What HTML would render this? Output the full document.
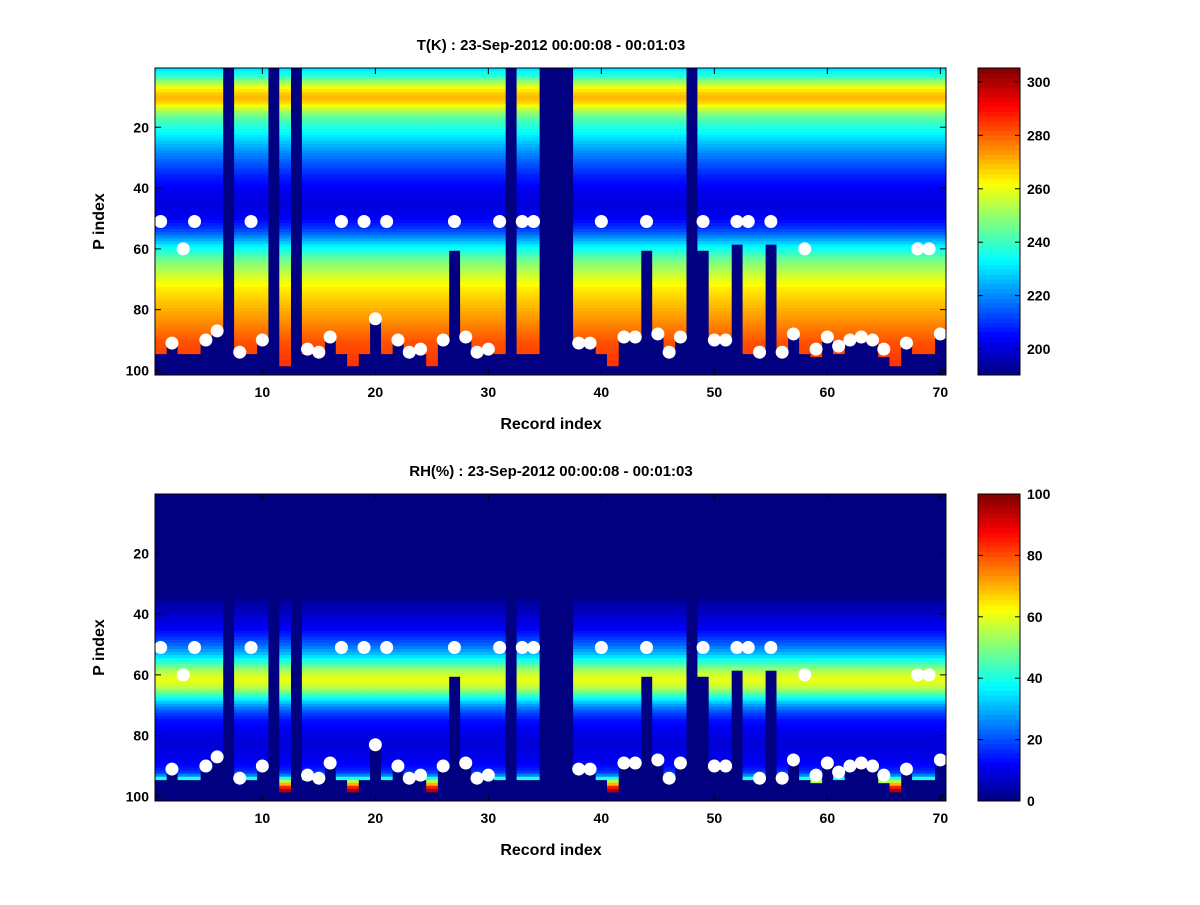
<!DOCTYPE html>
<html><head><meta charset="utf-8">
<style>
body{margin:0;background:#fff;}
svg text{font-family:"Liberation Sans",sans-serif;font-weight:bold;fill:#000;}
</style></head>
<body>
<svg id="fig" width="1200" height="900" viewBox="0 0 1200 900" xmlns="http://www.w3.org/2000/svg">
<rect width="1200" height="900" fill="#fff"/>
</svg>
<script>
// ---- data ----
const records = Array.from({length:70},(_,i)=>i+1);
// last valid P index per record (0 = missing record)
const lastValid = [94,91,94,94,90,87,0,94,94,90,0,98,0,94,94,89,94,98,94,83,94,90,94,94,98,90,60,89,94,93,94,0,94,94,0,0,0,91,91,94,98,89,89,60,88,94,89,0,60,90,90,58,94,94,58,94,88,94,95,89,94,90,89,90,95,98,91,94,94,88];
// upper marker (≈51 / 60) and lower marker per record (0 = none)
const upperDot = [51,0,60,51,0,0,0,0,51,0,0,0,0,0,0,0,51,0,51,0,51,0,0,0,0,0,51,0,0,0,51,0,51,51,0,0,0,0,0,51,0,0,0,51,0,0,0,0,51,0,0,51,51,0,51,0,0,60,0,0,0,0,0,0,0,0,0,60,60,0];
const lowerDot = [0,91,0,0,90,87,0,94,0,90,0,0,0,93,94,89,0,0,0,83,0,90,94,93,0,90,0,89,94,93,0,0,0,0,0,0,0,91,91,0,0,89,89,0,88,94,89,0,0,90,90,0,0,94,0,94,88,0,93,89,92,90,89,90,93,0,91,0,0,88];
// mean profiles by P index 1..101
const tempProfile = [231,234,238,244,250,256,261,265,268,270,269,266,261,256,251,247,244,241,239,237,235,233,231,229,227,225,223,221,219,218,216,214,213,211,210,208,207,206,205,204,203,202,202,201,201,201,202,202,203,204,206,208,210,213,216,220,224,228,232,235,238,241,244,247,249,251,253,255,257,259,261,262,264,265,266,267,268,269,270,271,272,273,274,275,276,277,278,279,280,281,282,282,283,283,284,284,285,285,286,286,286];
const rhProfile = [0,0,0,0,0,0,0,0,0,0,0,0,0,0,0,0,0,0,0,0,0,0,0,0,0,0,0,0,0,0,0,0,0,0,1,3,4,5,6,7,8,9,10,11,12,14,16,18,20,22,25,28,31,35,39,43,47,51,55,58,60,60,59,56,52,47,42,37,32,28,24,21,18,16,14,13,12,11,10,10,9,9,9,9,10,10,10,11,12,13,15,18,25,40,55,70,85,95,95,95,95];
const tempTicksY = [200,220,240,260,280,300];
const rhTicksY = [0,20,40,60,80,100];
const pTicks = [20,40,60,80,100];
const recTicks = [10,20,30,40,50,60,70];

const NS='http://www.w3.org/2000/svg';
const svg=document.getElementById('fig');
function mk(tag,attrs,parent){const e=document.createElementNS(NS,tag);for(const k in attrs)e.setAttribute(k,attrs[k]);(parent||svg).appendChild(e);return e;}
function jet(v){v=Math.max(0,Math.min(1,v));
 const r=Math.max(0,Math.min(1,Math.min(4*v-1.5,-4*v+4.5)));
 const g=Math.max(0,Math.min(1,Math.min(4*v-0.5,-4*v+3.5)));
 const b=Math.max(0,Math.min(1,Math.min(4*v+0.5,-4*v+2.5)));
 return `rgb(${Math.round(r*255)},${Math.round(g*255)},${Math.round(b*255)})`;}

function panel(top,title,profile,cmin,cmax,cticks,name){
 const L=155,R=946,T=top,B=top+307;
 const xs=i=>L+(i-0.5)*(R-L)/70;
 const ys=p=>T+(p-0.5)*(B-T)/101;
 const g=mk('g',{});
 const bg=mk('rect',{x:L,y:T,width:R-L,height:B-T,fill:jet(0)},g);
 
 const cells=mk('g',{},g);
 records.forEach((rec,i)=>{
  const lv=lastValid[i];
  for(let p=1;p<=lv;p++){
   const v=profile[p-1];
   const c=mk('rect',{x:xs(rec-0.5),y:ys(p-0.5),width:xs(rec+0.5)-xs(rec-0.5)+0.4,height:ys(p+0.5)-ys(p-0.5)+0.4,fill:jet((v-cmin)/(cmax-cmin))},cells);
   
   
  }
 });
 records.forEach((rec,i)=>{
  [upperDot[i],lowerDot[i]].forEach(d=>{ if(d>0){
   const m=mk('circle',{cx:xs(rec),cy:ys(d),r:6.5,fill:'#fff'},g);
   
   
  }});
 });
 mk('rect',{x:L,y:T,width:R-L,height:B-T,fill:'none',stroke:'#000','stroke-width':1},g);
 recTicks.forEach(t=>{const x=xs(t);
  mk('line',{x1:x,y1:B,x2:x,y2:B-6,stroke:'#000'},g);mk('line',{x1:x,y1:T,x2:x,y2:T+6,stroke:'#000'},g);
  const tx=mk('text',{x:x,y:B+22,'text-anchor':'middle','font-size':14},g);tx.textContent=t;
  });
 pTicks.forEach(t=>{const y=ys(t);
  mk('line',{x1:L,y1:y,x2:L+6,y2:y,stroke:'#000'},g);mk('line',{x1:R,y1:y,x2:R-6,y2:y,stroke:'#000'},g);
  const tx=mk('text',{x:L-6,y:y+5,'text-anchor':'end','font-size':14},g);tx.textContent=t;
  });
 const tt=mk('text',{x:551,y:T-18,'text-anchor':'middle','font-size':15},g);tt.textContent=title;
 
 const xl=mk('text',{x:551,y:B+54,'text-anchor':'middle','font-size':16},g);xl.textContent='Record index';
 
 const yl=mk('text',{x:0,y:0,'text-anchor':'middle','font-size':16,transform:`translate(104,${(T+B)/2}) rotate(-90)`},g);yl.textContent='P index';
 
 const CL=978,CR=1020;
 const cb=mk('g',{},g);
 const N=64;
 for(let k=0;k<N;k++){
  mk('rect',{x:CL,y:B-(k+1)*(B-T)/N,width:CR-CL,height:(B-T)/N+0.5,fill:jet((k+0.5)/N)},cb);
 }
 mk('rect',{x:CL,y:T,width:CR-CL,height:B-T,fill:'none',stroke:'#000'},cb);
 const cy=v=>B-(v-cmin)/(cmax-cmin)*(B-T);
 cticks.forEach(t=>{const y=cy(t);
  mk('line',{x1:CL,y1:y,x2:CL+5,y2:y,stroke:'#000'},cb);mk('line',{x1:CR,y1:y,x2:CR-5,y2:y,stroke:'#000'},cb);
  const tx=mk('text',{x:CR+7,y:y+5,'font-size':14},cb);tx.textContent=t;
  });
}
panel(68,'T(K) : 23-Sep-2012 00:00:08 - 00:01:03',tempProfile,190.3,305.2,tempTicksY,'temperature');
panel(494,'RH(%) : 23-Sep-2012 00:00:08 - 00:01:03',rhProfile,0,100,rhTicksY,'humidity');
</script>
</body></html>
